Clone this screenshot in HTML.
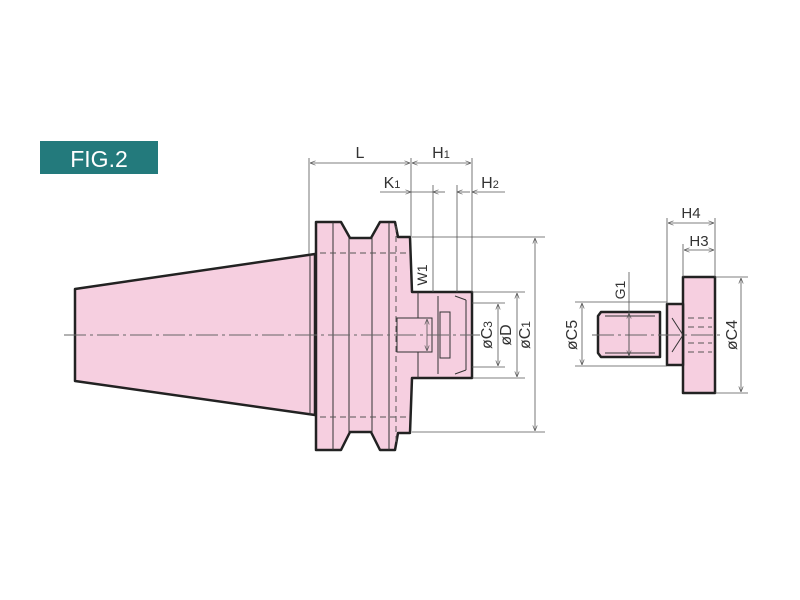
<!DOCTYPE html>
<html><head><meta charset="utf-8"><style>
html,body{margin:0;padding:0;background:#fff;width:800px;height:600px;overflow:hidden}
svg text{font-family:"Liberation Sans",sans-serif;fill:#333}
</style></head><body>
<svg width="800" height="600" viewBox="0 0 800 600" xmlns="http://www.w3.org/2000/svg">
<defs>
<marker id="a" viewBox="0 0 10 10" refX="10" refY="5" markerWidth="7" markerHeight="7" orient="auto-start-reverse"><path d="M0,1 L10,5 L0,9" fill="none" stroke="#555" stroke-width="1.2"/></marker>
</defs>
<rect x="40" y="141" width="118" height="33" fill="#237a7c"/>
<text x="99" y="167" font-size="23" text-anchor="middle" style="fill:#fff">FIG.2</text>

<g fill="#f6cfe0" stroke="#222" stroke-width="2.5" stroke-linejoin="round">
<path d="M75,289 L315,254 L315,415 L75,381 Z"/>
<path d="M316,222 L341,222 L350,238 L371,238 L380,222 L395,222 L398,237 L410,237 L412,292 L472,292 L472,378 L412,378 L410,433 L398,433 L395,450 L380,450 L371,432 L350,432 L341,450 L316,450 Z"/>
<path d="M683,277 L715,277 L715,393 L683,393 Z"/>
<path d="M667,304 L683,304 L683,365 L667,365 Z"/>
<path d="M601,312 L660,312 L660,357 L601,357 L598,353 L598,316 Z"/>
</g>
<g fill="none" stroke="#333" stroke-width="1">
<line x1="310" y1="254" x2="310" y2="415"/>
<line x1="333" y1="222" x2="333" y2="450"/>
<line x1="349" y1="238" x2="349" y2="432"/>
<line x1="372" y1="238" x2="372" y2="432"/>
<line x1="389" y1="222" x2="389" y2="450"/>
<line x1="418" y1="292" x2="418" y2="378"/>
<rect x="397" y="318" width="35" height="34" fill="#f6cfe0"/>
<line x1="438" y1="296" x2="438" y2="374"/>
<line x1="455" y1="296" x2="466" y2="300"/>
<line x1="455" y1="374" x2="466" y2="370"/>
<line x1="466" y1="300" x2="466" y2="370"/>
<rect x="440" y="312" width="10" height="46"/>
<line x1="605" y1="316" x2="655" y2="316"/>
<line x1="605" y1="353" x2="655" y2="353"/>
<line x1="672" y1="318" x2="683" y2="335"/>
<line x1="672" y1="352" x2="683" y2="335"/>
</g>
<g stroke="#555" stroke-width="1" stroke-dasharray="6,4" fill="none">
<line x1="320" y1="253" x2="410" y2="253"/>
<line x1="320" y1="417" x2="410" y2="417"/>
<line x1="396" y1="226" x2="396" y2="446"/>
<line x1="688" y1="318" x2="712" y2="318"/>
<line x1="688" y1="352" x2="712" y2="352"/>
<line x1="688" y1="327" x2="712" y2="327"/>
<line x1="688" y1="343" x2="712" y2="343"/>
</g>
<g stroke="#666" stroke-width="1" stroke-dasharray="22,4,3,4" fill="none">
<line x1="64" y1="335" x2="480" y2="335"/>
<line x1="592" y1="335" x2="722" y2="335"/>
</g>
<g stroke="#555" stroke-width="0.8" fill="none">
<line x1="309" y1="158" x2="309" y2="254"/>
<line x1="411" y1="158" x2="411" y2="237"/>
<line x1="472" y1="158" x2="472" y2="292"/>
<line x1="433" y1="185" x2="433" y2="292"/>
<line x1="457" y1="185" x2="457" y2="292"/>
<line x1="412" y1="237" x2="545" y2="237"/>
<line x1="412" y1="432" x2="545" y2="432"/>
<line x1="472" y1="292" x2="525" y2="292"/>
<line x1="472" y1="378" x2="525" y2="378"/>
<line x1="472" y1="303" x2="505" y2="303"/>
<line x1="472" y1="367" x2="505" y2="367"/>
<line x1="667" y1="218" x2="667" y2="304"/>
<line x1="683" y1="244" x2="683" y2="277"/>
<line x1="715" y1="218" x2="715" y2="277"/>
<line x1="715" y1="277" x2="748" y2="277"/>
<line x1="715" y1="393" x2="748" y2="393"/>
<line x1="575" y1="302" x2="667" y2="302"/>
<line x1="575" y1="366" x2="667" y2="366"/>
<line x1="629" y1="272" x2="629" y2="357"/>
</g>
<g stroke="#555" stroke-width="0.8" fill="none" marker-start="url(#a)" marker-end="url(#a)">
<line x1="310" y1="163" x2="410" y2="163"/>
<line x1="412" y1="163" x2="471" y2="163"/>
<line x1="535" y1="238" x2="535" y2="431"/>
<line x1="517" y1="293" x2="517" y2="377"/>
<line x1="498" y1="304" x2="498" y2="366"/>
<line x1="427" y1="319" x2="427" y2="351"/>
<line x1="668" y1="223" x2="714" y2="223"/>
<line x1="684" y1="250" x2="714" y2="250"/>
<line x1="741" y1="278" x2="741" y2="392"/>
<line x1="582" y1="303" x2="582" y2="365"/>
<line x1="629" y1="313" x2="629" y2="356"/>
</g>
<g stroke="#555" stroke-width="0.8" fill="none">
<line x1="380" y1="192" x2="411" y2="192" marker-end="url(#a)"/>
<line x1="411" y1="192" x2="433" y2="192"/>
<line x1="433" y1="192" x2="445" y2="192" marker-start="url(#a)"/>
<line x1="457" y1="192" x2="470" y2="192" marker-start="url(#a)"/>
<line x1="472" y1="192" x2="505" y2="192" marker-start="url(#a)"/>
</g>
<g font-size="16">
<text x="360" y="158" text-anchor="middle">L</text>
<text x="441" y="158" text-anchor="middle">H<tspan font-size="11">1</tspan></text>
<text x="392" y="188" text-anchor="middle">K<tspan font-size="11">1</tspan></text>
<text x="490" y="188" text-anchor="middle">H<tspan font-size="11">2</tspan></text>
<text x="691" y="218" text-anchor="middle" font-size="15">H4</text>
<text x="699" y="246" text-anchor="middle" font-size="15">H3</text>
<text transform="translate(492,335) rotate(-90)" text-anchor="middle">øC<tspan font-size="12">3</tspan></text>
<text transform="translate(511,335) rotate(-90)" text-anchor="middle">øD</text>
<text transform="translate(530,335) rotate(-90)" text-anchor="middle">øC<tspan font-size="12">1</tspan></text>
<text transform="translate(577,335) rotate(-90)" text-anchor="middle">øC5</text>
<text transform="translate(737,335) rotate(-90)" text-anchor="middle">øC4</text>
<text transform="translate(625,290) rotate(-90)" text-anchor="middle" font-size="14">G1</text>
<text transform="translate(427,275) rotate(-90)" text-anchor="middle" font-size="14">W1</text>
</g>
</svg>
</body></html>
